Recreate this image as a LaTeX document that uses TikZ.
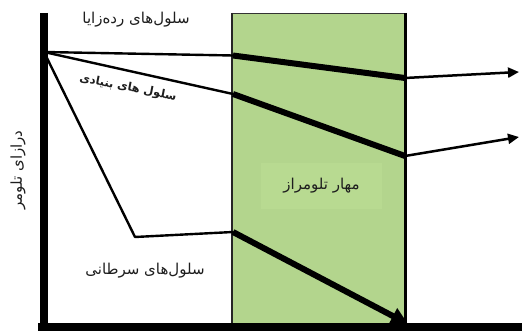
\documentclass[tikz,border=0pt]{standalone}
\usepackage{fontspec}
\newfontfamily\arabicfont[Script=Arabic]{DejaVu Sans}
\TeXXeTstate=1
\usetikzlibrary{arrows.meta}
\definecolor{zonegreen}{RGB}{179,213,141}
\definecolor{labelgreen}{RGB}{184,218,145}
\definecolor{txtgray}{RGB}{30,30,30}
\begin{document}
\begin{tikzpicture}[x=1pt,y=-1pt,
  thinline/.style={line width=2.4pt,line cap=round,line join=round},
  thickline/.style={line width=6pt},
  outarrow/.style={line width=2.5pt,-{Triangle[length=11pt,width=10pt]}},
  lbl/.style={font=\arabicfont\fontsize{15}{17}\selectfont,text=txtgray,inner sep=0pt}]
\useasboundingbox (0,0) rectangle (522,331);
% green zone
\fill[zonegreen] (231,13) rectangle (406,325);
\node[fill=labelgreen,minimum width=121pt,minimum height=46pt,inner sep=0pt] (lab) at (321.5,186) {};
\draw[line width=1pt,black!80] (231,13.5) -- (406,13.5);
\draw[line width=2.2pt,black!85] (232,13) -- (232,325);
\draw[line width=3pt] (405,13) -- (405,325);
% axes
\draw[line width=7.5pt] (44,13) -- (44,331);
\draw[line width=8pt] (38,326.5) -- (522,326.5);
% coordinates
\coordinate (O) at (44,52);
\coordinate (A1) at (233,55.5);
\coordinate (B1) at (405,78);
\coordinate (T1) at (519,72);
\coordinate (A2) at (233,94);
\coordinate (B2) at (405,156);
\coordinate (T2) at (519,137);
\coordinate (K) at (135,237);
\coordinate (A3) at (233,232);
\coordinate (B3) at (408,324);
% lines
\draw[thinline] (O) -- (A1);
\draw[thickline] (A1) -- (B1);
\draw[outarrow] (B1) -- (T1);
\draw[thinline] (O) -- (A2);
\draw[thickline] (A2) -- (B2);
\draw[outarrow] (B2) -- (T2);
\draw[thinline] (O) -- (K) -- (A3);
\draw[thickline,-{Triangle[length=17pt,width=17pt]}] (A3) -- (B3);
% labels
\node[lbl] (germ) at (136,20) {\beginR سلول‌های رده‌زایا\endR};
\node[lbl,font=\arabicfont\bfseries\fontsize{11.5}{13}\selectfont,rotate=-11] (stem) at (128,88) {\beginR سلول های بنیادی\endR};
\node[lbl,rotate=90] (len) at (18,170) {\beginR درازای تلومر\endR};
\node[lbl] (cancer) at (145,271) {\beginR سلول‌های سرطانی\endR};
\node[lbl] (inhib) at (lab) {\beginR مهار تلومراز\endR};
\end{tikzpicture}
\end{document}
